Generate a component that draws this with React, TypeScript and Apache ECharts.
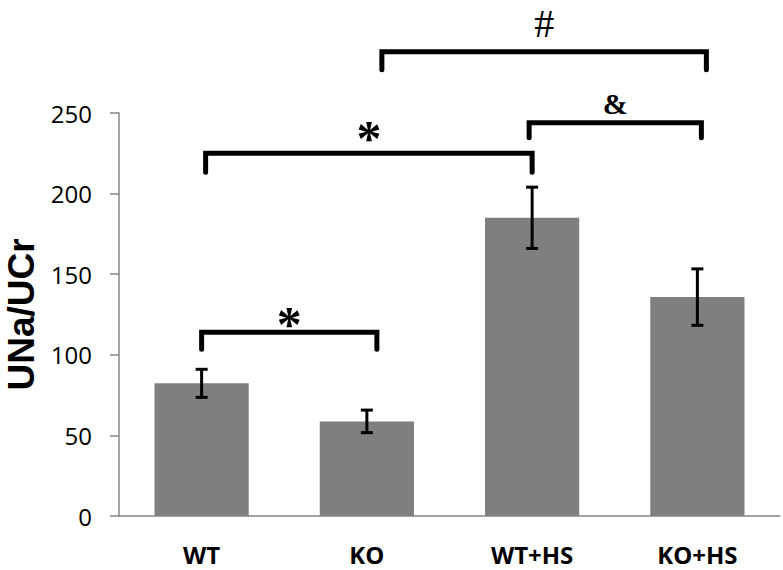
import React, { useEffect, useRef } from "react";
import * as echarts from "echarts";

// ---- data ----
const categories = ["WT", "KO", "WT+HS", "KO+HS"];
const means = [82.3, 58.7, 185, 135.8];
const errors = [8.7, 7, 19, 17.5];
const yMin = 0;
const yMax = 250;
const yInterval = 50;

// significance brackets (category index from/to, value level of bar, label)
const bracketFrom = [0, 0, 2, 1];
const bracketTo = [1, 2, 3, 3];
const bracketLevel = [114, 225, 244, 288];
const bracketLabels = ["*", "*", "&", "#"];

// ---- layout (pixels) ----
const bracketDx = [
  [0, 10],
  [4, 0],
  [-3, 4],
  [15, 9],
];
const bracketLegPx = [17, 19, 15, 18];
const labelOffsetPx = [8, 15, 19, 28];
const labelFont = [
  { size: 50, weight: "bold" },
  { size: 50, weight: "bold" },
  { size: 30, weight: "bold" },
  { size: 40, weight: "normal" },
];

export default function App() {
  const ref = useRef<HTMLDivElement>(null);
  useEffect(() => {
    const chart = echarts.init(ref.current!, null, { renderer: "svg" });
    const axisColor = "#868686";
    chart.setOption({
      animation: false,
      backgroundColor: "#ffffff",
      grid: {
        left: 119,
        right: 3,
        top: 113,
        bottom: 54,
        containLabel: false,
        outerBoundsMode: "none",
      },
      xAxis: {
        type: "category",
        data: categories,
        axisTick: { show: false },
        axisLine: { lineStyle: { color: axisColor, width: 1.5 } },
        axisLabel: {
          fontSize: 24,
          fontWeight: "bold",
          fontFamily: "Open Sans",
          color: "#000",
          lineHeight: 16,
          margin: 30,
        },
      },
      yAxis: {
        type: "value",
        min: yMin,
        max: yMax,
        interval: yInterval,
        name: "UNa/UCr",
        nameLocation: "middle",
        nameRotate: 90,
        nameGap: 78,
        nameTextStyle: {
          fontSize: 37,
          fontWeight: "bold",
          fontFamily: "Liberation Sans",
          lineHeight: 37,
          color: "#000",
        },
        splitLine: { show: false },
        axisLine: { show: true, lineStyle: { color: axisColor, width: 1.5 } },
        axisTick: { show: true, length: 9, lineStyle: { color: axisColor, width: 1.5 } },
        axisLabel: {
          fontSize: 24,
          fontFamily: "Open Sans",
          color: "#000",
          margin: 27,
        },
      },
      series: [
        {
          type: "bar",
          data: means,
          barWidth: "57%",
          itemStyle: { color: "#7f7f7f" },
        },
        {
          type: "custom",
          z: 5,
          data: means.map((m, i) => [i, m - errors[i], m + errors[i]]),
          encode: { x: 0, y: [1, 2] },
          renderItem: (params: any, api: any) => {
            const i = api.value(0);
            const lo = api.coord([i, api.value(1)]);
            const hi = api.coord([i, api.value(2)]);
            const hw = 6;
            const st = { stroke: "#000", lineWidth: 3 };
            return {
              type: "group",
              children: [
                { type: "line", shape: { x1: lo[0], y1: lo[1], x2: hi[0], y2: hi[1] }, style: st },
                { type: "line", shape: { x1: lo[0] - hw, y1: lo[1], x2: lo[0] + hw, y2: lo[1] }, style: st },
                { type: "line", shape: { x1: hi[0] - hw, y1: hi[1], x2: hi[0] + hw, y2: hi[1] }, style: st },
              ],
            };
          },
        },
        {
          type: "custom",
          z: 6,
          clip: false,
          data: bracketFrom.map((f, k) => [f, bracketTo[k], bracketLevel[k], k]),
          encode: { x: [0, 1], y: 2 },
          renderItem: (params: any, api: any) => {
            const k = api.value(3);
            const a = api.coord([api.value(0), api.value(2)]);
            const b = api.coord([api.value(1), api.value(2)]);
            const x1 = a[0] + bracketDx[k][0];
            const x2 = b[0] + bracketDx[k][1];
            const y = a[1];
            const yb = y + bracketLegPx[k];
            return {
              type: "group",
              children: [
                {
                  type: "polyline",
                  shape: { points: [[x1, yb], [x1, y], [x2, y], [x2, yb]] },
                  style: { stroke: "#000", lineWidth: 5, fill: null, lineJoin: "miter", lineCap: "round" },
                },
                {
                  type: "text",
                  style: {
                    text: bracketLabels[k],
                    x: (x1 + x2) / 2,
                    y: y - labelOffsetPx[k],
                    align: "center",
                    verticalAlign: "middle",
                    fontSize: labelFont[k].size,
                    fontWeight: labelFont[k].weight,
                    fontFamily: "Liberation Serif",
                    fill: "#000",
                  },
                },
              ],
            };
          },
        },
      ],
    });
    return () => chart.dispose();
  }, []);
  return (
    <div
      ref={ref}
      style={{ position: "fixed", left: 0, top: 0, width: 783, height: 570, background: "#fff" }}
    />
  );
}
